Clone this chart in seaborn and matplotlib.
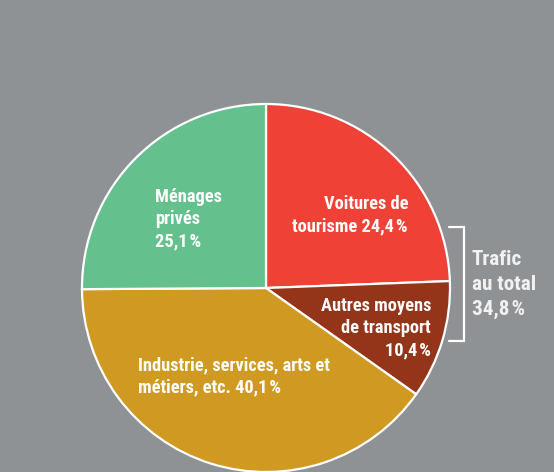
import os
import matplotlib
matplotlib.use("Agg")
import matplotlib.pyplot as plt
from matplotlib import font_manager
import seaborn as sns

# Energy consumption shares (percent)
categories = ["Voitures de tourisme", "Autres moyens de transport",
              "Industrie, services, arts et métiers, etc.", "Ménages privés"]
shares = [24.4, 10.4, 40.1, 25.1]
traffic_total = 34.8

slice_colors = ["#ef4136", "#943419", "#d09a22", "#64c18d"]
bg = "#8f9295"

sns.set_style("white")
plt.rcParams["font.family"] = ["DejaVu Sans"]

# look for a condensed bold face among the installed fonts
cond_file = None
for want in ["RobotoCondensed-Bold", "DejaVuSansCondensed-Bold", "LiberationSansNarrow-Bold"]:
    hits = [f.fname for f in font_manager.fontManager.ttflist
            if os.path.basename(f.fname).startswith(want)]
    if hits:
        cond_file = hits[0]
        break

W, H = 554, 472
fig = plt.figure(figsize=(W / 100, H / 100), dpi=100, facecolor=bg)
ax = fig.add_axes([0, 0, 1, 1])
ax.set_facecolor(bg)


def Y(y):
    # image row -> data y
    return H - y


ax.pie(shares, colors=slice_colors, startangle=90, counterclock=False,
       center=(266, Y(288)), radius=184, frame=True,
       wedgeprops=dict(edgecolor="white", linewidth=1.6))
ax.set_xlim(0, W)
ax.set_ylim(0, H)
ax.set_aspect("equal")
ax.axis("off")


def fp(size):
    if cond_file:
        return font_manager.FontProperties(fname=cond_file, size=size)
    return font_manager.FontProperties(family="DejaVu Sans", weight="bold",
                                       stretch="condensed", size=size)


fmt = lambda v: f"{v:.1f}".replace(".", ",") + "\u200a%"
font = dict(color="white", fontproperties=fp(13.2), linespacing=1.3)

ax.text(155, Y(188), f"Ménages\nprivés\n{fmt(shares[3])}", ha="left", va="top", **font)
ax.text(408, Y(195), f"Voitures de\ntourisme {fmt(shares[0])}", ha="right", va="top", **font)
ax.text(431, Y(297), f"Autres moyens\nde transport\n{fmt(shares[1])}", ha="right", va="top", **font)
ax.text(138, Y(356), f"Industrie, services, arts et\nmétiers, etc. {fmt(shares[2])}",
        ha="left", va="top", **font)

# bracket for total traffic
ax.plot([449, 464, 464, 449], [Y(227), Y(227), Y(341), Y(341)], color="white", lw=1.6,
        solid_joinstyle="miter")
ax.text(472, Y(250), f"Trafic\nau total\n{fmt(traffic_total)}", ha="left", va="top",
        color="#f2f2f2", fontproperties=fp(15.2), linespacing=1.38)

fig.savefig("out.png", dpi=100, facecolor=bg)
